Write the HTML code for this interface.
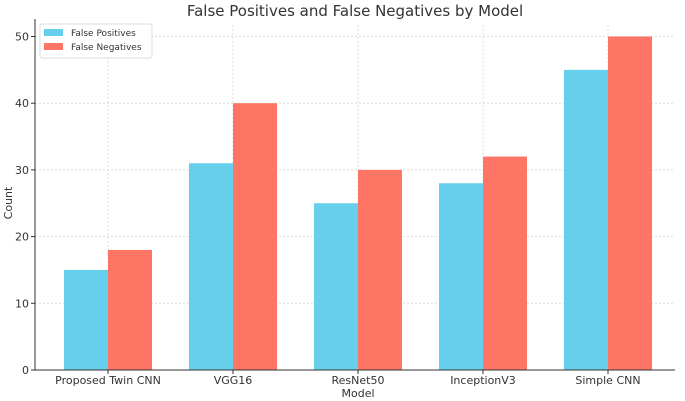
<!DOCTYPE html>
<html><head><meta charset="utf-8"><style>
body{margin:0;background:#fff;}
svg{font-family:"DejaVu Sans","Liberation Sans",sans-serif;display:block}
</style></head><body>
<svg width="685" height="401" id="c">
<text x="355" y="16" text-anchor="middle" font-size="15" fill="#333">False Positives and False Negatives by Model</text>
<g id="grid"></g><g id="bars"></g><g id="axes"></g>
<text x="358" y="397" text-anchor="middle" font-size="11" fill="#333">Model</text>
<text transform="translate(12,203) rotate(-90)" text-anchor="middle" font-size="11" fill="#333">Count</text>
<g>
<rect x="40" y="24" width="112" height="34" fill="#fff" stroke="#ddd" rx="2"/>
<rect x="44" y="29" width="19" height="7" fill="#66cfeb"/>
<text x="71" y="36" font-size="9" fill="#333">False Positives</text>
<rect x="44" y="43" width="19" height="7" fill="#fe7465"/>
<text x="71" y="50" font-size="9" fill="#333">False Negatives</text>
</g>
</svg>
<script>
const categories=["Proposed Twin CNN","VGG16","ResNet50","InceptionV3","Simple CNN"];
const falsePositives=[15,31,25,28,45];
const falseNegatives=[18,40,30,32,50];
const yTicks=[0,10,20,30,40,50];
const NS="http://www.w3.org/2000/svg";
const L=35,R=675,T=25,B=370;
const xs=i=>108+i*125;
const ys=v=>B-v*(B-36.5)/50;
function mk(tag,attrs,parent){const e=document.createElementNS(NS,tag);for(const k in attrs)e.setAttribute(k,attrs[k]);document.getElementById(parent).appendChild(e);return e;}
yTicks.forEach(t=>{
  if(t>0){const g=mk('line',{x1:L,x2:R,y1:ys(t),y2:ys(t),stroke:'#ddd','stroke-dasharray':'2,2'},'grid');
  
  }
  const tk=mk('line',{x1:L-4,x2:L,y1:ys(t),y2:ys(t),stroke:'#333'},'axes');
  
  
  const tx=mk('text',{x:L-6,y:ys(t)+4,'text-anchor':'end','font-size':11,fill:'#333'},'axes');tx.textContent=t;
  
  
});
categories.forEach((c,i)=>{
  const g=mk('line',{x1:xs(i),x2:xs(i),y1:T,y2:B,stroke:'#ddd','stroke-dasharray':'2,2'},'grid');
  
  
  const b1=mk('rect',{x:xs(i)-44,y:ys(falsePositives[i]),width:44,height:B-ys(falsePositives[i]),fill:'#66cfeb'},'bars');
  
  
  const b2=mk('rect',{x:xs(i),y:ys(falseNegatives[i]),width:44,height:B-ys(falseNegatives[i]),fill:'#fe7465'},'bars');
  
  
  const tk=mk('line',{x1:xs(i),x2:xs(i),y1:B,y2:B+4,stroke:'#333'},'axes');
  
  
  const tx=mk('text',{x:xs(i),y:B+14,'text-anchor':'middle','font-size':11,fill:'#333'},'axes');tx.textContent=c;
  
  
});
const ax=mk('line',{x1:L,x2:R,y1:B,y2:B,stroke:'#333'},'axes');


const ay=mk('line',{x1:L,x2:L,y1:T-6,y2:B,stroke:'#333'},'axes');


</script>
</body></html>
